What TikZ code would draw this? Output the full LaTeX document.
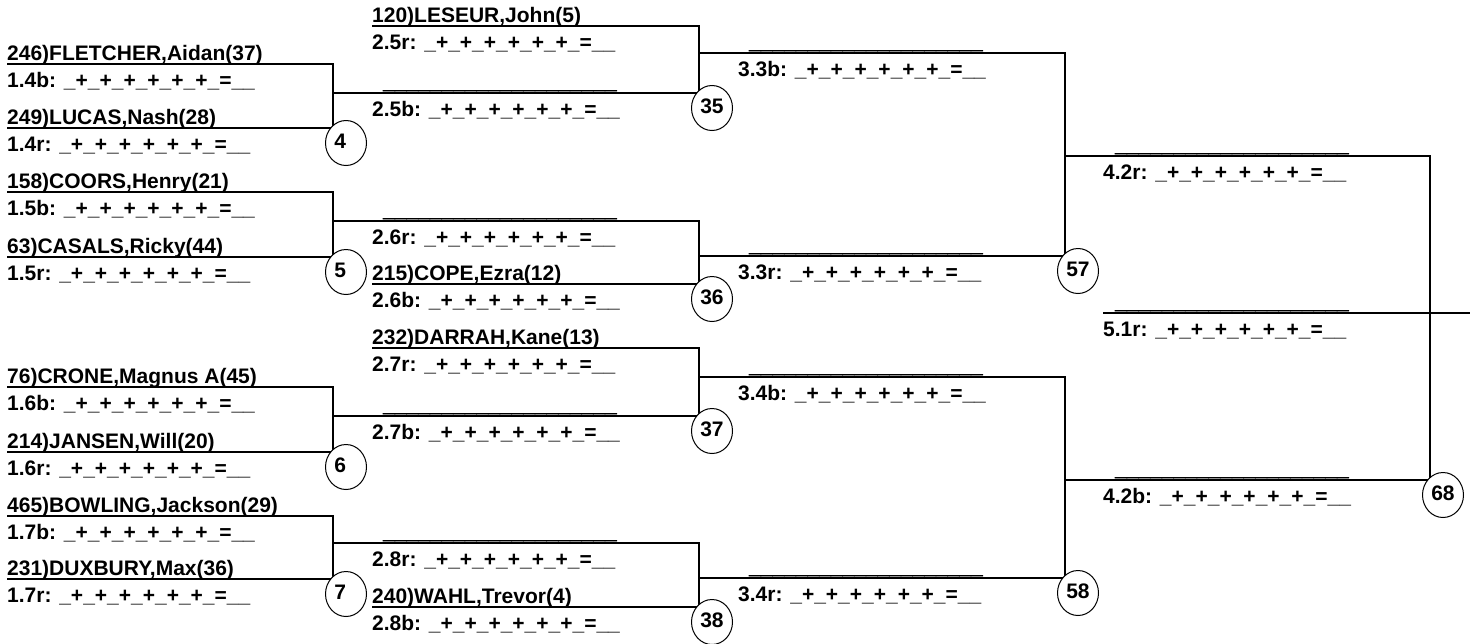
\documentclass[tikz,border=0pt]{standalone}
\usepackage{fontspec}
\setmainfont{Liberation Sans}
\newfontfamily\heavyfont{Liberation Sans}[FakeBold=2.5]
\usetikzlibrary{shapes.geometric}
\newcommand\scr[1]{#1: \_+\_+\_+\_+\_+\_+\_=\_\_}
\newcommand\blk{{\heavyfont\bfseries\_\_\_\_\_\_\_\_\_\_\_\_\_\_\_\_\_\_\_\_}}
\newcommand\sdn[1]{\makebox[23.4pt][l]{#1}\rule[-4pt]{0pt}{1pt}}
\begin{document}
\begin{tikzpicture}[x=1pt,y=-1pt,
  every node/.style={font=\fontsize{21}{25}\selectfont\bfseries, inner sep=0pt},
  lbl/.style={anchor=base west},
  seed/.style={draw, ellipse, minimum width=41pt, minimum height=45pt, line width=1pt, fill=white},
  wire/.style={line width=1.1pt}]
\useasboundingbox (0,0) rectangle (1473,643);

% ---------- coordinates: round 1 ----------
\coordinate (m4a) at (7,64);   \coordinate (m4b) at (333,64);  \coordinate (m4c) at (333,128); \coordinate (m4d) at (7,128);
\coordinate (m5a) at (7,192);  \coordinate (m5b) at (333,192); \coordinate (m5c) at (333,257); \coordinate (m5d) at (7,257);
\coordinate (m6a) at (7,387);  \coordinate (m6b) at (333,387); \coordinate (m6c) at (333,452); \coordinate (m6d) at (7,452);
\coordinate (m7a) at (7,516);  \coordinate (m7b) at (333,516); \coordinate (m7c) at (333,579); \coordinate (m7d) at (7,579);
% exits of round 1
\coordinate (m4x) at (333,93); \coordinate (m5x) at (333,221); \coordinate (m6x) at (333,416); \coordinate (m7x) at (333,543);
% ---------- round 2 ----------
\coordinate (m35a) at (372,26);  \coordinate (m35b) at (699,26);  \coordinate (m35c) at (699,93);
\coordinate (m36b) at (699,221); \coordinate (m36c) at (699,284); \coordinate (m36d) at (372,284);
\coordinate (m37a) at (372,348); \coordinate (m37b) at (699,348); \coordinate (m37c) at (699,416);
\coordinate (m38b) at (699,543); \coordinate (m38c) at (699,607); \coordinate (m38d) at (372,607);
\coordinate (m35x) at (699,53); \coordinate (m36x) at (699,256); \coordinate (m37x) at (699,377); \coordinate (m38x) at (699,578);
% ---------- round 3 ----------
\coordinate (m57b) at (1065,53);  \coordinate (m57c) at (1065,256);
\coordinate (m58b) at (1065,377); \coordinate (m58c) at (1065,578);
\coordinate (m57x) at (1065,156); \coordinate (m58x) at (1065,480);
% ---------- round 4 ----------
\coordinate (m68b) at (1430,156); \coordinate (m68c) at (1430,480);
\coordinate (fa) at (1103,313); \coordinate (fb) at (1470,313);

% ---------- connectors ----------
\draw[wire] (m4a) -- (m4b) -- (m4c) -- (m4d);
\draw[wire] (m5a) -- (m5b) -- (m5c) -- (m5d);
\draw[wire] (m6a) -- (m6b) -- (m6c) -- (m6d);
\draw[wire] (m7a) -- (m7b) -- (m7c) -- (m7d);
\draw[wire] (m35a) -- (m35b) -- (m35c) -- (m4x);
\draw[wire] (m5x) -- (m36b) -- (m36c) -- (m36d);
\draw[wire] (m37a) -- (m37b) -- (m37c) -- (m6x);
\draw[wire] (m7x) -- (m38b) -- (m38c) -- (m38d);
\draw[wire] (m35x) -- (m57b) -- (m57c) -- (m36x);
\draw[wire] (m37x) -- (m58b) -- (m58c) -- (m38x);
\draw[wire] (m57x) -- (m68b) -- (m68c) -- (m58x);
\draw[wire] (fa) -- (fb);

% ---------- round 1 texts ----------
\node[lbl] (p246) at (7,60.5)  {246)FLETCHER,Aidan(37)};
\node[lbl] (s14b) at (7,87.5)  {\scr{1.4b}};
\node[lbl] (p249) at (7,124.5) {249)LUCAS,Nash(28)};
\node[lbl] (s14r) at (7,151.5) {\scr{1.4r}};
\node[lbl] (p158) at (7,188.5) {158)COORS,Henry(21)};
\node[lbl] (s15b) at (7,215.5) {\scr{1.5b}};
\node[lbl] (p63)  at (7,253.5) {63)CASALS,Ricky(44)};
\node[lbl] (s15r) at (7,280.5) {\scr{1.5r}};
\node[lbl] (p76)  at (7,383.5) {76)CRONE,Magnus A(45)};
\node[lbl] (s16b) at (7,410.5) {\scr{1.6b}};
\node[lbl] (p214) at (7,448.5) {214)JANSEN,Will(20)};
\node[lbl] (s16r) at (7,475.5) {\scr{1.6r}};
\node[lbl] (p465) at (7,512.5) {465)BOWLING,Jackson(29)};
\node[lbl] (s17b) at (7,539.5) {\scr{1.7b}};
\node[lbl] (p231) at (7,575.5) {231)DUXBURY,Max(36)};
\node[lbl] (s17r) at (7,602.5) {\scr{1.7r}};

% ---------- round 2 texts ----------
\node[lbl] (p120) at (372,22.5)  {120)LESEUR,John(5)};
\node[lbl] (s25r) at (372,49.5)  {\scr{2.5r}};
\node[lbl] (b25b) at (383,88.5)  {\blk};
\node[lbl] (s25b) at (372,116.5) {\scr{2.5b}};
\node[lbl] (b26r) at (383,216.5) {\blk};
\node[lbl] (s26r) at (372,244.5) {\scr{2.6r}};
\node[lbl] (p215) at (372,280.5) {215)COPE,Ezra(12)};
\node[lbl] (s26b) at (372,307.5) {\scr{2.6b}};
\node[lbl] (p232) at (372,344.5) {232)DARRAH,Kane(13)};
\node[lbl] (s27r) at (372,371.5) {\scr{2.7r}};
\node[lbl] (b27b) at (383,411.5) {\blk};
\node[lbl] (s27b) at (372,439.5) {\scr{2.7b}};
\node[lbl] (b28r) at (383,538.5) {\blk};
\node[lbl] (s28r) at (372,566.5) {\scr{2.8r}};
\node[lbl] (p240) at (372,603.5) {240)WAHL,Trevor(4)};
\node[lbl] (s28b) at (372,630.5) {\scr{2.8b}};

% ---------- round 3 texts ----------
\node[lbl] (b33b) at (749,48.5)  {\blk};
\node[lbl] (s33b) at (738,76.5)  {\scr{3.3b}};
\node[lbl] (b33r) at (749,251.5) {\blk};
\node[lbl] (s33r) at (738,279.5) {\scr{3.3r}};
\node[lbl] (b34b) at (749,372.5) {\blk};
\node[lbl] (s34b) at (738,400.5) {\scr{3.4b}};
\node[lbl] (b34r) at (749,573.5) {\blk};
\node[lbl] (s34r) at (738,601.5) {\scr{3.4r}};

% ---------- round 4 / final texts ----------
\node[lbl] (b42r) at (1115,151.5) {\blk};
\node[lbl] (s42r) at (1103,179.5) {\scr{4.2r}};
\node[lbl] (b51r) at (1115,308.5) {\blk};
\node[lbl] (s51r) at (1103,336.5) {\scr{5.1r}};
\node[lbl] (b42b) at (1115,475.5) {\blk};
\node[lbl] (s42b) at (1103,503.5) {\scr{4.2b}};

% ---------- match numbers ----------
\node[seed] (c4)  at (346,143)  {\sdn{4}};
\node[seed] (c5)  at (346,272)  {\sdn{5}};
\node[seed] (c6)  at (346,467)  {\sdn{6}};
\node[seed] (c7)  at (346,594)  {\sdn{7}};
\node[seed] (c35) at (712,108)  {\sdn{35}};
\node[seed] (c36) at (712,299)  {\sdn{36}};
\node[seed] (c37) at (712,431)  {\sdn{37}};
\node[seed] (c38) at (712,622)  {\sdn{38}};
\node[seed] (c57) at (1078,271) {\sdn{57}};
\node[seed] (c58) at (1078,593) {\sdn{58}};
\node[seed] (c68) at (1443,495) {\sdn{68}};
\end{tikzpicture}
\end{document}
